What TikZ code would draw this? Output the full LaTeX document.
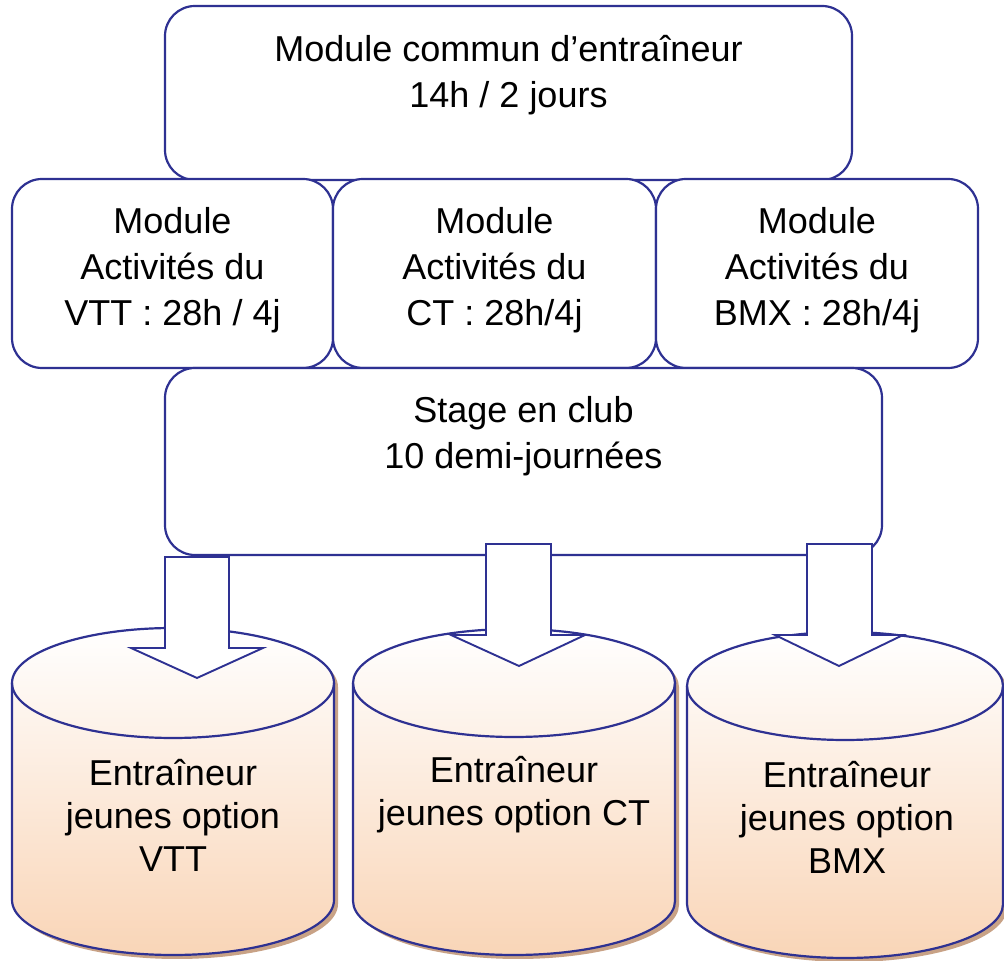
\documentclass[tikz,border=0pt]{standalone}
\usepackage{fontspec}
\setmainfont{Liberation Sans}
\definecolor{bline}{RGB}{46,49,146}
\definecolor{peach}{RGB}{249,213,183}
\definecolor{shadowc}{RGB}{200,162,134}
\begin{document}
\begin{tikzpicture}[x=1pt,y=1pt,
  box/.style={draw=bline, line width=2.2pt, fill=white, rounded corners=30pt, inner sep=0pt},
  txt/.style={align=center, font=\fontsize{36}{46}\selectfont, inner sep=0pt},
  ctxt/.style={align=center, font=\fontsize{36}{43}\selectfont, inner sep=0pt},
  blockarrow/.style={draw=bline, line width=1.9pt, fill=white, line join=miter},
  cylline/.style={draw=bline, line width=2.2pt}
]
\useasboundingbox (0,0) rectangle (1004,961);

% top box
\node[box, minimum width=687pt, minimum height=174pt] (top) at (508.5,868) {};
\node[txt] (toptxt) at (508.5,886) {Module commun d’entraîneur\\14h / 2 jours};

% middle boxes
\node[box, minimum width=321pt, minimum height=189pt] (vtt) at (172.5,687.5) {};
\node[box, minimum width=323pt, minimum height=189pt] (ct) at (494.5,687.5) {};
\node[box, minimum width=322pt, minimum height=189pt] (bmx) at (817,687.5) {};
\node[txt] (vtttxt) at (172.5,691) {Module\\Activités du\\VTT : 28h / 4j};
\node[txt] (cttxt) at (494.5,691) {Module\\Activités du\\CT : 28h/4j};
\node[txt] (bmxtxt) at (817,691) {Module\\Activités du\\BMX : 28h/4j};

% stage box
\node[box, minimum width=717pt, minimum height=187pt] (stage) at (523.5,499.5) {};
\node[txt] (stagetxt) at (523.5,525) {Stage en club\\10 demi-journées};

% cylinders: #1 x1, #2 x2, #3 top centre y, #4 bottom centre y, #5 ry
\newcommand{\cylpath}[5]{(#1,#3) -- (#1,#4) arc[start angle=180, end angle=360, x radius={(#2-#1)/2}, y radius=#5] -- (#2,#3) arc[start angle=0, end angle=180, x radius={(#2-#1)/2}, y radius=#5] -- cycle}
\newcommand{\cyldraw}[5]{%
  \fill[shadowc, shift={(4,-4)}] \cylpath{#1}{#2}{#3}{#4}{#5};
  \shade[top color=white, bottom color=peach] \cylpath{#1}{#2}{#3}{#4}{#5};
  \draw[cylline] \cylpath{#1}{#2}{#3}{#4}{#5};
  \draw[cylline] (#1,#3) arc[start angle=180, end angle=360, x radius={(#2-#1)/2}, y radius=#5];
}
\cyldraw{12}{334}{278}{61}{55}
\cyldraw{353}{675}{278}{60}{54}
\cyldraw{687}{1003}{275}{57}{54}
\node[ctxt] (c1) at (173,146) {Entraîneur\\jeunes option\\VTT};
\node[ctxt] (c2) at (514,166) {Entraîneur\\jeunes option CT};
\node[ctxt] (c3) at (847,144) {Entraîneur\\jeunes option\\BMX};

% block arrows
\draw[blockarrow] (165,404) -- (229,404) -- (229,313) -- (263,313) -- (197,283) -- (131,313) -- (165,313) -- cycle;
\draw[blockarrow] (486,417) -- (551,417) -- (551,326) -- (585,326) -- (519,295) -- (451,326) -- (486,326) -- cycle;
\draw[blockarrow] (807,417) -- (872,417) -- (872,326) -- (903,326) -- (839,295) -- (775,326) -- (807,326) -- cycle;
\end{tikzpicture}
\end{document}
